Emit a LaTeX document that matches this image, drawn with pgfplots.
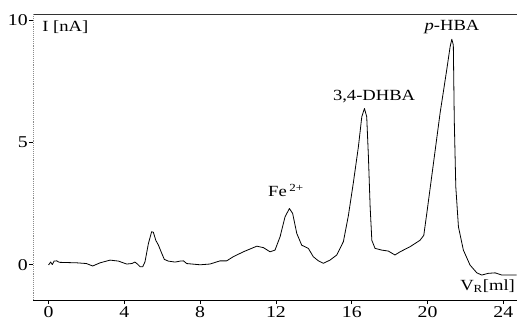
\documentclass[border=0pt]{standalone}
\usepackage{fontspec}
\setmainfont{Liberation Serif}[FakeStretch=1.2]
\usepackage{pgfplots}
\pgfplotsset{compat=1.18}
\begin{document}
\begin{tikzpicture}
\begin{axis}[
  name=ax,
  scale only axis,
  width=484pt, height=286pt,
  xmin=-0.82, xmax=24.72,
  ymin=-1.44, ymax=10.25,
  xtick={0,4,8,12,16,20,24},
  ytick={0,5,10},
  tick align=outside,
  tick pos=left,
  major tick length=4pt,
  tick style={black, line width=0.6pt},
  axis line style={draw=none},
  /pgf/number format/assume math mode=true,
  tick label style={font=\fontsize{16.5}{18}\selectfont},
  xticklabel style={inner ysep=2pt},
  yticklabel style={inner xsep=1pt},
  clip=false,
]
\draw[black, line width=0.8pt] (rel axis cs:0,0) -- (rel axis cs:1,0);
\draw[black!80, line width=0.8pt] (rel axis cs:0,1) -- (rel axis cs:1,1);
\draw[black!45, line width=0.9pt, densely dotted] (rel axis cs:0,0) -- (rel axis cs:0,1);
\addplot[black, line width=0.8pt, line join=round] coordinates {
(0,-0.01) (0.11,0.11) (0.2,0.01) (0.29,0.15) (0.43,0.16) (0.57,0.1) (1.0,0.09)
(1.49,0.08) (2.0,0.05) (2.33,-0.05) (2.72,0.08) (3.25,0.19) (3.69,0.15) (4.12,0.03)
(4.39,0.05) (4.56,0.11) (4.69,0.03) (4.83,-0.08) (4.97,-0.08) (5.09,0.12) (5.27,0.87)
(5.44,1.35) (5.53,1.33) (5.66,1.0) (5.8,0.8) (5.94,0.53) (6.11,0.22) (6.32,0.15)
(6.68,0.11) (6.94,0.15) (7.12,0.16) (7.29,0.05) (8.0,0) (8.52,0.03) (9.05,0.16)
(9.4,0.16) (9.75,0.33) (10.28,0.53) (10.99,0.76) (11.34,0.7) (11.69,0.53) (11.95,0.6)
(12.22,1.15) (12.48,1.96) (12.71,2.3) (12.88,2.1) (13.1,1.28) (13.36,0.8) (13.71,0.67)
(13.97,0.33) (14.24,0.16) (14.5,0.06) (14.85,0.19) (15.21,0.4) (15.56,0.95) (15.82,2.0)
(16.08,3.33) (16.35,4.82) (16.53,6.05) (16.67,6.39) (16.79,6.05) (16.88,4.41) (16.97,2.37)
(17.06,1.0) (17.23,0.67) (17.58,0.6) (17.93,0.56) (18.28,0.4) (18.55,0.53) (19.08,0.74)
(19.6,1.0) (19.8,1.2) (19.96,2.1) (20.31,4.14) (20.66,6.19) (21.01,7.96) (21.19,8.91)
(21.28,9.22) (21.36,8.98) (21.41,5.91) (21.49,3.19) (21.63,1.55) (21.89,0.6) (22.24,-0.01)
(22.6,-0.33) (22.86,-0.42) (23.21,-0.35) (23.56,-0.33) (23.92,-0.42) (24.7,-0.42)
};
\node[anchor=west, font=\fontsize{15.5}{17}\selectfont, inner sep=0pt] at (axis cs:-0.34,9.71) {I [nA]};
\node[font=\fontsize{15.5}{17}\selectfont, inner sep=0pt] at (axis cs:21.29,9.71) {\textit{p}-HBA};
\node[font=\fontsize{15.5}{17}\selectfont, inner sep=0pt] at (axis cs:17.18,6.89) {3,4-DHBA};
\node[font=\fontsize{15.5}{17}\selectfont, inner sep=0pt] at (axis cs:12.53,3.05) {Fe\,\textsuperscript{2+}};
\node[anchor=east, font=\fontsize{15.5}{17}\selectfont, inner sep=0pt] at (axis cs:24.62,-0.87) {V\textsubscript{R}[ml]};
\end{axis}
\pgfresetboundingbox
\path[use as bounding box] ([xshift=-33pt,yshift=-22pt]ax.south west) rectangle ([yshift=14pt]ax.north east);
\end{tikzpicture}
\end{document}
